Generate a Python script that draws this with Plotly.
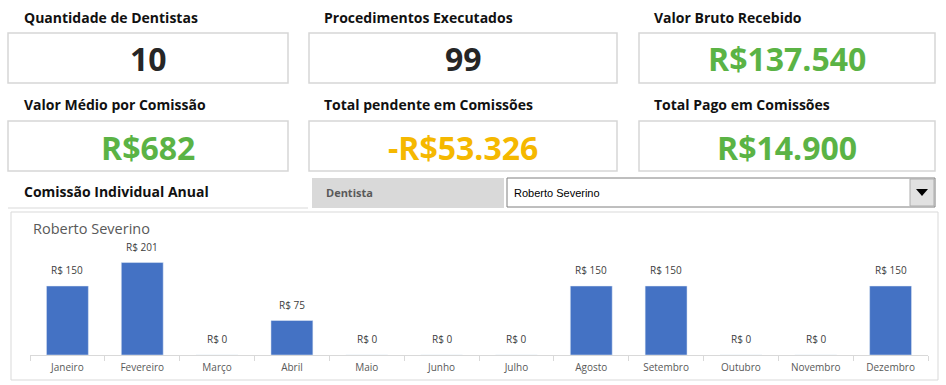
import plotly.graph_objects as go

W, H = 946, 385

months = ["Janeiro", "Fevereiro", "Março", "Abril", "Maio", "Junho",
          "Julho", "Agosto", "Setembro", "Outubro", "Novembro", "Dezembro"]
values = [150, 201, 0, 75, 0, 0, 0, 150, 150, 0, 0, 150]

kpi_titles = ["Quantidade de Dentistas", "Procedimentos Executados", "Valor Bruto Recebido",
              "Valor Médio por Comissão", "Total pendente em Comissões", "Total Pago em Comissões"]
kpi_values = ["10", "99", "R$137.540", "R$682", "-R$53.326", "R$14.900"]
kpi_colors = ["#262626", "#262626", "#5BB345", "#5BB345", "#F5B800", "#5BB345"]

section_title = "Comissão Individual Anual"
filter_label = "Dentista"
dentist = "Roberto Severino"

FONT = "Open Sans"


def px(x):
    return x / W


def py(y):
    return 1 - y / H


fig = go.Figure()
fig.add_trace(go.Bar(
    x=months, y=values, marker_color="#4472C4", width=0.56,
    hoverinfo="skip",
))

shapes = []
annotations = []

cols = [(8, 288, 22), (309, 617, 322), (639, 935, 652)]
rows = [(17, 33, 83), (105, 121, 171)]
for i, (t, v, c) in enumerate(zip(kpi_titles, kpi_values, kpi_colors)):
    ty, y0, y1 = rows[i // 3]
    x0, x1, tx = cols[i % 3]
    shapes.append(dict(type="rect", xref="paper", yref="paper",
                       x0=px(x0), x1=px(x1), y0=py(y1), y1=py(y0),
                       line=dict(color="#D6D6D6", width=1.5), fillcolor="white", layer="below"))
    annotations.append(dict(xref="paper", yref="paper", x=px(tx), y=py(ty),
                            xanchor="left", yanchor="middle", showarrow=False,
                            text="<b>" + t + "</b>",
                            font=dict(family=FONT, size=14, color="#111111")))
    annotations.append(dict(xref="paper", yref="paper", x=px((x0 + x1) / 2), y=py((y0 + y1) / 2 + 1),
                            xanchor="center", yanchor="middle", showarrow=False,
                            text="<b>" + v + "</b>",
                            font=dict(family=FONT, size=32, color=c)))

# section title
annotations.append(dict(xref="paper", yref="paper", x=px(22), y=py(192),
                        xanchor="left", yanchor="middle", showarrow=False,
                        text="<b>" + section_title + "</b>",
                        font=dict(family=FONT, size=14, color="#111111")))
shapes.append(dict(type="line", xref="paper", yref="paper",
                   x0=px(8), x1=px(308), y0=py(208), y1=py(208),
                   line=dict(color="#D9D9D9", width=1)))

# Dentista label box
shapes.append(dict(type="rect", xref="paper", yref="paper",
                   x0=px(312), x1=px(504), y0=py(208), y1=py(178),
                   line=dict(width=0), fillcolor="#D9D9D9", layer="below"))
annotations.append(dict(xref="paper", yref="paper", x=px(324), y=py(193),
                        xanchor="left", yanchor="middle", showarrow=False,
                        text="<b>" + filter_label + "</b>",
                        font=dict(family=FONT, size=11, color="#595959")))

# dropdown
shapes.append(dict(type="rect", xref="paper", yref="paper",
                   x0=px(507), x1=px(935), y0=py(207), y1=py(178),
                   line=dict(color="#7F7F7F", width=1), fillcolor="white", layer="below"))
shapes.append(dict(type="rect", xref="paper", yref="paper",
                   x0=px(910), x1=px(934), y0=py(206), y1=py(179),
                   line=dict(color="#ADADAD", width=1), fillcolor="#E1E1E1", layer="below"))
shapes.append(dict(type="path", xref="paper", yref="paper",
                   path=f"M {px(916)} {py(189)} L {px(928)} {py(189)} L {px(922)} {py(196)} Z",
                   fillcolor="black", line=dict(width=0)))
annotations.append(dict(xref="paper", yref="paper", x=px(512), y=py(193),
                        xanchor="left", yanchor="middle", showarrow=False,
                        text=dentist,
                        font=dict(family="Liberation Sans Narrow, Arial Narrow, sans-serif", size=11, color="#000000")))

# chart border
shapes.append(dict(type="rect", xref="paper", yref="paper",
                   x0=px(11), x1=px(938), y0=py(380), y1=py(212),
                   line=dict(color="#D9D9D9", width=1), fillcolor="white", layer="below"))
annotations.append(dict(xref="paper", yref="paper", x=px(31), y=py(228),
                        xanchor="left", yanchor="middle", showarrow=False,
                        text=dentist,
                        font=dict(family=FONT, size=14.5, color="#595959")))

# data labels
for m, v in zip(months, values):
    annotations.append(dict(xref="x", yref="y", x=m, y=v, yanchor="bottom",
                            yshift=7, showarrow=False,
                            text=f"R$ {v}",
                            font=dict(family=FONT, size=10, color="#404040")))

fig.update_layout(
    width=W, height=H,
    margin=dict(l=0, r=0, t=0, b=0),
    paper_bgcolor="white", plot_bgcolor="rgba(0,0,0,0)",
    showlegend=False,
    shapes=shapes, annotations=annotations,
    bargap=0.44,
    xaxis=dict(domain=[px(30), px(928)], showgrid=False, showline=True,
               linecolor="#D9D9D9", linewidth=1, ticks="outside", tickson="boundaries",
               ticklen=5, tickcolor="#D9D9D9", fixedrange=True, ticklabelstandoff=3,
               tickfont=dict(family=FONT, size=10, color="#595959")),
    yaxis=dict(domain=[30 / H, 145 / H], range=[0, 250], visible=False, fixedrange=True),
)

fig.write_html("out.html")
